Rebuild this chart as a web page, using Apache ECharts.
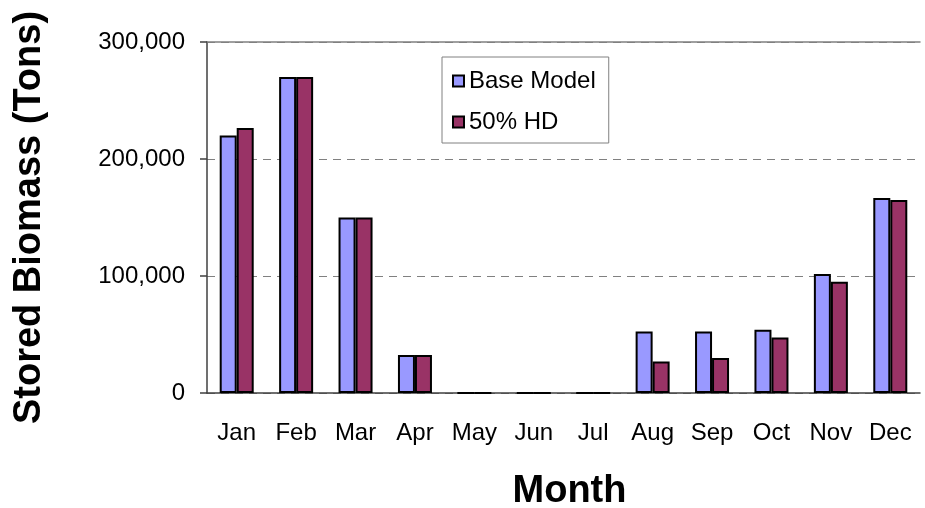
<!DOCTYPE html>
<html>
<head>
<meta charset="utf-8">
<script src="https://cdn.jsdelivr.net/npm/echarts@6/dist/echarts.min.js"></script>
<style>
  html, body { margin: 0; padding: 0; background: #fff; }
  #chart { width: 925px; height: 508px; }
</style>
</head>
<body>
<div id="chart"></div>
<script>
var months = ['Jan', 'Feb', 'Mar', 'Apr', 'May', 'Jun', 'Jul', 'Aug', 'Sep', 'Oct', 'Nov', 'Dec']
var baseModel = [220000, 270000, 150000, 32500, 0, 0, 0, 52500, 52500, 54000, 101700, 166700]
var hd50 = [226500, 270000, 150000, 32500, 0, 0, 0, 27000, 30000, 47500, 95000, 165000]

var font = 'Arial, "Liberation Sans", sans-serif'

var myChart = echarts.init(document.getElementById('chart'))
var option = {
    animation: false,
    textStyle: { fontFamily: font },
    grid: { left: 207, right: 5, top: 42, bottom: 115, outerBoundsMode: 'none', containLabel: false },
    legend: {
        orient: 'vertical',
        left: 442,
        top: 57,
        padding: [12, 13, 9, 10],
        itemGap: 17,
        itemWidth: 11,
        itemHeight: 11,
        itemTextGap: 12,
        borderColor: '#808080',
        borderWidth: 1,
        icon: 'rect',
        textStyle: { fontFamily: font, fontSize: 24, color: '#000' },
        data: ['Base Model', '50% HD']
    },
    xAxis: [{
        type: 'category',
        data: months,
        name: 'Month',
        nameLocation: 'middle',
        nameGap: 80,
        nameTextStyle: { fontFamily: font, fontSize: 38, fontWeight: 'bold', color: '#000', padding: [0, 0, 0, 12] },
        axisLine: { lineStyle: { color: '#404040', width: 1.5 } },
        axisTick: { length: 6, lineStyle: { color: '#404040', width: 1.5 } },
        axisLabel: { margin: 28, fontSize: 24, color: '#000', fontFamily: font, interval: 0 }
    }, {
        type: 'category',
        data: months,
        position: 'top',
        axisLine: { lineStyle: { color: '#808080', width: 1.5 } },
        axisTick: { show: false },
        axisLabel: { show: false }
    }],
    yAxis: {
        type: 'value',
        min: 0,
        max: 300000,
        interval: 100000,
        name: 'Stored Biomass (Tons)',
        nameLocation: 'middle',
        nameGap: 158,
        nameTextStyle: { fontFamily: font, fontSize: 38, fontWeight: 'bold', color: '#000' },
        axisLine: { show: true, lineStyle: { color: '#404040', width: 1.5 } },
        axisTick: { show: true, length: 7, lineStyle: { color: '#404040', width: 1.5 } },
        axisLabel: {
            margin: 22,
            fontSize: 24,
            color: '#000',
            fontFamily: font,
            formatter: function (v) { return v.toLocaleString('en-US') }
        },
        splitLine: { lineStyle: { color: '#808080', width: 1.2, type: [8, 6] } }
    },
    series: [{
        name: 'Base Model',
        type: 'bar',
        data: baseModel,
        barWidth: 17,
        barGap: '0%',
        itemStyle: { color: '#9999FF', borderColor: '#000', borderWidth: 2 }
    }, {
        name: '50% HD',
        type: 'bar',
        data: hd50,
        barWidth: 17,
        barGap: '0%',
        itemStyle: { color: '#993366', borderColor: '#000', borderWidth: 2 }
    }]
}

myChart.setOption(option)
</script>
</body>
</html>
